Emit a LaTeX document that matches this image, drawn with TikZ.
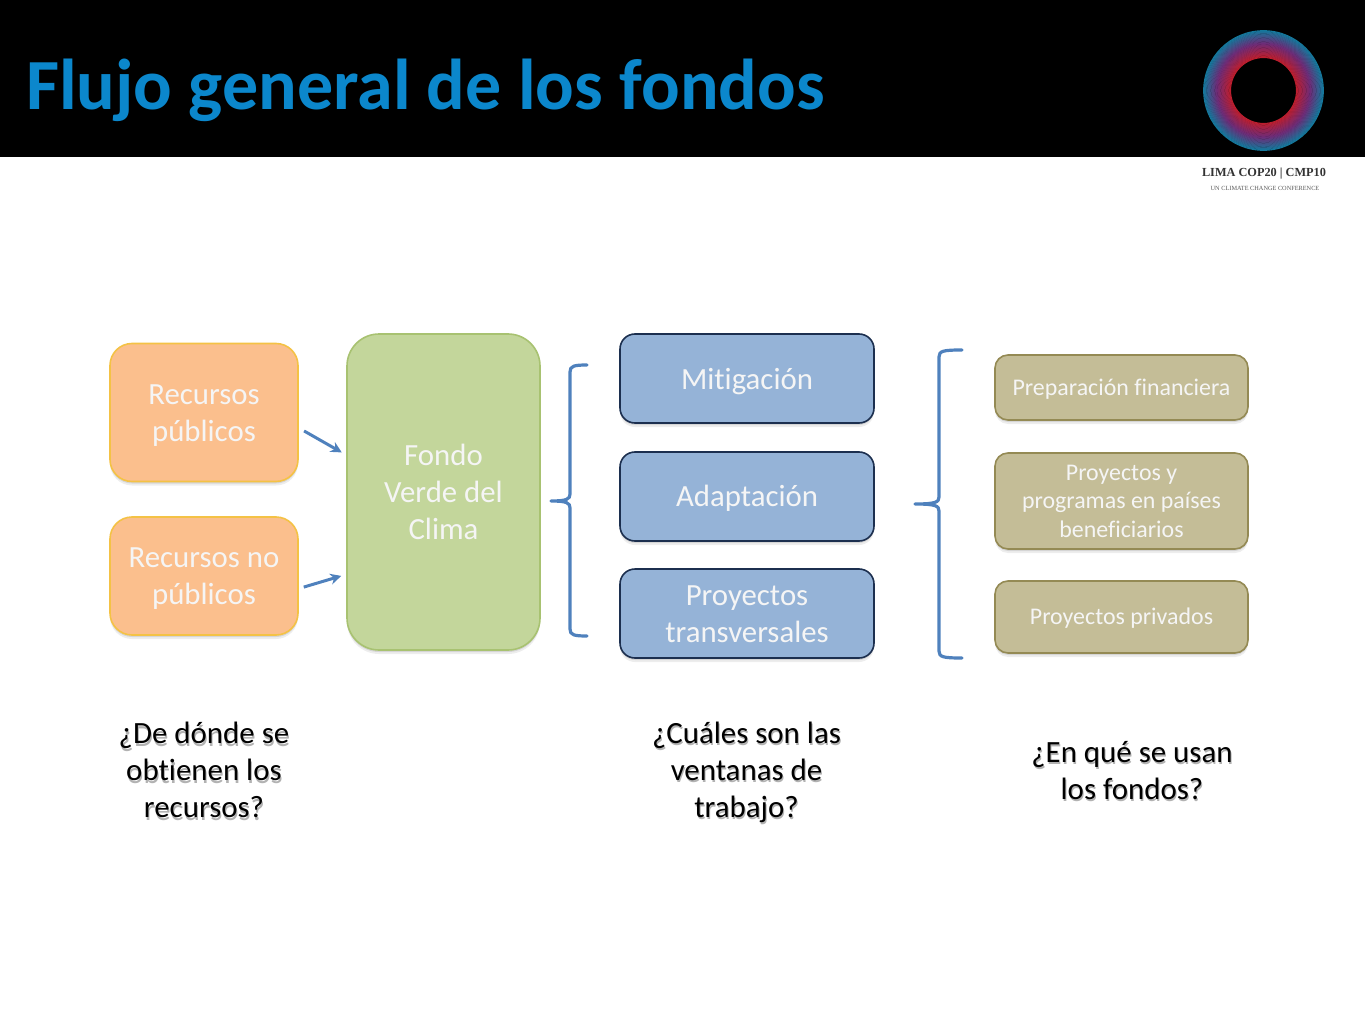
\documentclass[tikz,border=0pt]{standalone}
\usepackage{fontspec}
\setmainfont[Ligatures=NoCommon]{Carlito}
\newfontfamily\logofont{Liberation Serif}
\usetikzlibrary{shadows,calc,arrows.meta}
\definecolor{titulo}{HTML}{0B87CC}
\definecolor{naranja}{HTML}{FBBF8D}
\definecolor{naranjaborde}{HTML}{F4C245}
\definecolor{verde}{HTML}{C3D69B}
\definecolor{verdeborde}{HTML}{A8C271}
\definecolor{azul}{HTML}{95B3D7}
\definecolor{azulborde}{HTML}{1C2F4F}
\definecolor{ocre}{HTML}{C4BD97}
\definecolor{ocreborde}{HTML}{948A54}
\definecolor{llavecolor}{HTML}{4F81BD}
\definecolor{anillorojo}{HTML}{BE1E2D}
\definecolor{anillomorado}{HTML}{6E2C78}
\definecolor{anilloazul}{HTML}{0D7F9F}
\newcommand{\bajar}[1]{\rule{0pt}{#1pt}}
\begin{document}
\begin{tikzpicture}[x=1pt,y=-1pt]
    \tikzstyle{caja}=[rounded corners=22pt,line width=1.6pt,text=white!96!black,align=center,inner sep=0pt,outer sep=0pt,
        drop shadow={shadow xshift=0pt,shadow yshift=-4pt,opacity=0.14},
        drop shadow={shadow xshift=0pt,shadow yshift=-2pt,opacity=0.22},
        font=\fontsize{30.8}{37}\selectfont]
    \tikzstyle{recurso}=[caja,draw=naranjaborde,fill=naranja,minimum width=188pt]
    \tikzstyle{fondo}=[caja,draw=verdeborde,fill=verde,rounded corners=32pt,minimum width=193pt,minimum height=316pt]
    \tikzstyle{ventana}=[caja,draw=azulborde,fill=azul,rounded corners=15pt,minimum width=254pt,minimum height=89pt]
    \tikzstyle{uso}=[caja,draw=ocreborde,fill=ocre,rounded corners=13pt,minimum width=253pt,font=\fontsize{23.9}{28.5}\selectfont]
    \tikzstyle{pregunta}=[align=center,font=\fontsize{30.9}{37}\selectfont]
    \tikzstyle{flujo}=[draw=llavecolor,line width=3pt,-{Stealth[length=11pt,width=11pt]}]
    \tikzstyle{llave}=[draw=llavecolor,line width=3.2pt,line cap=round]

    \path[use as bounding box] (0,0) rectangle (1365,1024);
    \fill[black] (0,0) rectangle (1365,157);
    \node[anchor=base west,inner sep=0pt,text=titulo,font=\fontsize{72}{76}\selectfont\bfseries] (titulo) at (26,109.5) {Flujo general de los fondos};

    % logo
    \foreach \r in {33,33.8,...,47}{
        \pgfmathsetmacro{\mezcla}{(47-\r)/14*100}
        \draw[anillorojo!\mezcla!anillomorado,line width=1.1pt] (1263.5,90.5) circle (\r pt);
    }
    \foreach \r in {47,47.8,...,60.6}{
        \pgfmathsetmacro{\mezcla}{(61-\r)/14*100}
        \draw[anillomorado!\mezcla!anilloazul,line width=1.1pt] (1263.5,90.5) circle (\r pt);
    }
    \node[inner sep=0pt,text=black!80,font=\logofont\fontsize{12.3}{13}\selectfont\bfseries] (lima) at (1264,174) {LIMA COP20 | CMP10};
    \node[inner sep=0pt,text=black!65,font=\logofont\fontsize{6.3}{7}\selectfont] (lema) at (1265,188) {UN CLIMATE CHANGE CONFERENCE};

    \node[recurso,minimum height=138pt] (R-1) at (204,412.5) {\bajar{25}Recursos\\públicos};
    \node[recurso,minimum height=118pt] (R-2) at (204,576) {\bajar{25}Recursos no\\públicos};
    \node[fondo] (F) at (443.5,492) {Fondo\\Verde del\\Clima};

    \foreach \num/\y/\txt in {1/378.5/\bajar{27}Mitigación, 2/496.5/\bajar{25}Adaptación, 3/613.5/{\bajar{22}Proyectos\\transversales}}
        \node[ventana] (V-\num) at (747,\y) {\txt};

    \foreach \num/\y/\alto/\txt in {1/387.5/65/\bajar{20}Preparación financiera, 2/501/96/{Proyectos y\\programas en países\\beneficiarios}, 3/617/72/\bajar{19}Proyectos privados}
        \node[uso,minimum height=\alto pt] (U-\num) at (1121.5,\y) {\txt};

    \draw[flujo,shorten <=7pt,shorten >=6pt] ($(R-1.east)+(0,15)$) -- ($(F.west)+(0,-36.6)$);
    \draw[flujo,shorten <=6pt,shorten >=6pt] ($(R-2.east)+(0,12.8)$) -- ($(F.west)+(0,82.2)$);

    % llaves
    \foreach \xp/\xl/\xf/\ya/\ym/\yb in {551/570/587/365/501/636, 915/939/962/350/504/658}
        \draw[llave] (\xf,\ya) .. controls (\xl+4,\ya) and (\xl,\ya+1) .. (\xl,\ya+7)
            -- (\xl,\ym-7) .. controls (\xl,\ym-2) and (\xl-3,\ym) .. (\xp,\ym)
            (\xp,\ym) .. controls (\xl-3,\ym) and (\xl,\ym+2) .. (\xl,\ym+7)
            -- (\xl,\yb-7) .. controls (\xl,\yb-1) and (\xl+4,\yb) .. (\xf,\yb);

    % preguntas
    \foreach \num/\x/\y/\txt in {1/204/770/{¿De dónde se\\obtienen los\\recursos?}, 2/746.5/772/{¿Cuáles son las\\ventanas de\\trabajo?}, 3/1132/770.5/{¿En qué se usan\\los fondos?}}{
        \node[pregunta,text=black,opacity=0.3] (S-\num) at (\x+1,\y+2.5) {\txt};
        \node[pregunta,text=black] (P-\num) at (\x,\y) {\txt};
    }
\end{tikzpicture}
\end{document}
